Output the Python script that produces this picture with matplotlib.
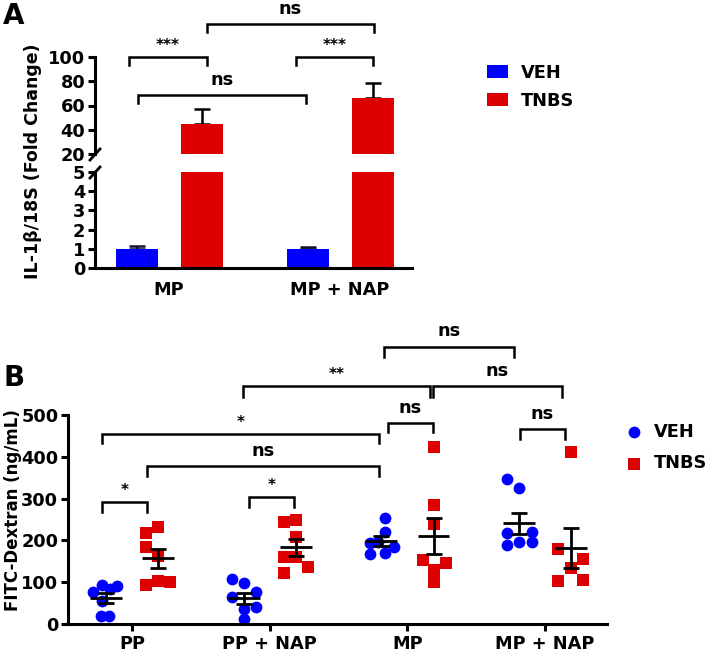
import matplotlib
matplotlib.use('Agg')
import matplotlib.pyplot as plt
import numpy as np
from matplotlib.lines import Line2D

# ---------------- data ----------------
groups_A = ["MP", "MP + NAP"]
veh_A = [1.0, 1.0]
veh_A_err = [0.15, 0.10]
tnbs_A = [45, 66]
tnbs_A_err = [12.5, 12.5]

groups_B = ["PP", "PP + NAP", "MP", "MP + NAP"]
veh_PP = [93, 84, 91, 77, 56, 19, 19]
veh_PPNAP = [107, 97, 77, 64, 41, 35, 11]
veh_MP = [253, 221, 197, 193, 185, 167, 171]
veh_MPNAP = [347, 325, 217, 195, 221, 189, 195]
tnbs_PP = [218, 233, 185, 163, 93, 104, 101]
tnbs_PPNAP = [245, 250, 209, 160, 160, 137, 121]
tnbs_MP = [424, 285, 239, 153, 147, 128, 101]
tnbs_MPNAP = [412, 179, 155, 133, 104, 105]

# horizontal scatter offsets of the points (layout only)
jit_veh = [[-0.031, 0.029, 0.082, -0.092, -0.031, -0.038, 0.024],
           [-0.087, 0.0, 0.087, -0.087, 0.087, 0.0, 0.0],
           [0.029, 0.029, -0.022, -0.08, 0.094, -0.08, 0.029],
           [-0.087, 0.0, -0.087, 0.0, 0.094, -0.087, 0.094]]
jit_tnbs = [[-0.087, 0.0, -0.087, 0.0, -0.087, 0.0, 0.087],
            [-0.087, 0.0, 0.0, -0.087, 0.0, 0.087, -0.087],
            [0.0, 0.0, 0.0, -0.08, 0.087, 0.0, 0.0],
            [0.0, -0.094, 0.087, 0.0, -0.094, 0.087]]

BLUE = '#0000FF'
RED = '#DD0000'

plt.rcParams['font.family'] = ['DejaVu Sans']
plt.rcParams['font.weight'] = 'bold'

W, H = 714, 653
fig = plt.figure(figsize=(W / 100, H / 100), dpi=100)


def fx(px):
    return px / W


def fy(py):
    return 1 - py / H


SPW = 2.2
TFS = 12.8

# ---------------- Panel A ----------------
axA_hi = fig.add_axes([fx(95), fy(154), fx(412) - fx(95), fy(57) - fy(154)])
axA_lo = fig.add_axes([fx(95), fy(268), fx(412) - fx(95), fy(172) - fy(268)])
xA = np.arange(len(groups_A))
offA, bwA = 0.19, 0.246
for ax in (axA_hi, axA_lo):
    ax.bar(xA - offA, veh_A, bwA, color=BLUE, label='VEH', zorder=2)
    ax.bar(xA + offA, tnbs_A, bwA, color=RED, label='TNBS', zorder=2)
    ax.errorbar(xA - offA, veh_A, yerr=[np.zeros(2), veh_A_err], fmt='none',
                ecolor='#111133', elinewidth=1.8, capsize=6, capthick=1.8, zorder=1)
    ax.errorbar(xA + offA, tnbs_A, yerr=[np.zeros(2), tnbs_A_err], fmt='none',
                ecolor='black', elinewidth=1.8, capsize=6, capthick=1.8, zorder=1)
    ax.set_xlim(-0.433, 1.42)
    for s in ('top', 'right'):
        ax.spines[s].set_visible(False)
    ax.spines['left'].set_linewidth(SPW)
    ax.spines['bottom'].set_linewidth(SPW)
    ax.tick_params(axis='y', length=5, width=SPW, labelsize=TFS, pad=2)

axA_hi.set_ylim(20, 100)
axA_hi.set_yticks([20, 40, 60, 80, 100])
axA_hi.spines['bottom'].set_visible(False)
axA_hi.set_xticks([])
axA_lo.set_ylim(0, 5)
axA_lo.set_yticks([0, 1, 2, 3, 4, 5])
axA_lo.set_xticks(xA)
axA_lo.set_xticklabels(groups_A, fontsize=TFS)
axA_lo.tick_params(axis='x', length=0, pad=9)

# axis break marks
for y0, y1 in ((160, 149), (178, 167)):
    fig.add_artist(Line2D([fx(90), fx(100)], [fy(y0), fy(y1)], color='black',
                          lw=2, transform=fig.transFigure))

fig.text(fx(33), fy(161), 'IL-1β/18S (Fold Change)', rotation=90,
         ha='center', va='center', fontsize=12.5)
fig.text(fx(3), fy(24), 'A', fontsize=20, fontweight='bold')

axA_hi.legend(loc='upper left', bbox_to_anchor=(fx(487), fy(64)),
              bbox_transform=fig.transFigure, frameon=False, fontsize=TFS,
              handlelength=1.2, handleheight=0.75, handletextpad=0.7,
              labelspacing=0.55, borderaxespad=0, borderpad=0)


def bracket(ax, x1, x2, y, leg, text, star, fs):
    ax.plot([x1, x1, x2, x2], [y - leg, y, y, y - leg], color='black',
            lw=1.8, clip_on=False, solid_joinstyle='miter')
    off = 5 if star else 7.5
    ax.annotate(text, xy=((x1 + x2) / 2, y), xytext=(0, off),
                textcoords='offset points', ha='center', va='baseline',
                fontsize=fs, fontweight='bold',
                annotation_clip=False)


bracketsA = [(-0.234, 0.222, 100, 6.6, '***'),
             (0.743, 1.193, 100, 6.6, '***'),
             (-0.181, 0.801, 68.7, 6.6, 'ns'),
             (0.222, 1.199, 127.2, 6.6, 'ns')]
for x1, x2, y, leg, t in bracketsA:
    st = '*' in t
    bracket(axA_hi, x1, x2, y, leg, t, st, 11 if st else 12.8)

# ---------------- Panel B ----------------
axB = fig.add_axes([fx(68), fy(624), fx(607) - fx(68), fy(415) - fy(624)])
veh_B = [veh_PP, veh_PPNAP, veh_MP, veh_MPNAP]
tnbs_B = [tnbs_PP, tnbs_PPNAP, tnbs_MP, tnbs_MPNAP]
offB = 0.19
for i in range(len(groups_B)):
    for vals, jit, sign, col, mk, lab in ((veh_B[i], jit_veh[i], -1, BLUE, 'o', 'VEH'),
                                         (tnbs_B[i], jit_tnbs[i], 1, RED, 's', 'TNBS')):
        v = np.array(vals, float)
        xc = i + sign * offB
        axB.scatter(xc + np.array(jit), v, s=68 if mk == 's' else 72, marker=mk,
                    color=col, linewidths=0, zorder=2, label=lab if i == 0 else None)
        m = v.mean()
        sem = v.std(ddof=1) / np.sqrt(len(v))
        axB.hlines(m, xc - 0.116, xc + 0.116, color='black', lw=2, zorder=3)
        axB.errorbar([xc], [m], yerr=[sem], fmt='none', ecolor='black',
                     elinewidth=2, capsize=5.5, capthick=2, zorder=3)

axB.set_xlim(-0.465, 3.45)
axB.set_ylim(0, 500)
axB.set_yticks([0, 100, 200, 300, 400, 500])
axB.set_xticks(range(len(groups_B)))
axB.set_xticklabels(groups_B, fontsize=TFS)
for s in ('top', 'right'):
    axB.spines[s].set_visible(False)
axB.spines['left'].set_linewidth(SPW)
axB.spines['bottom'].set_linewidth(SPW)
axB.tick_params(axis='y', length=5, width=SPW, labelsize=TFS, pad=2)
axB.tick_params(axis='x', length=5, width=SPW, pad=3)

fig.text(fx(13), fy(510), 'FITC-Dextran (ng/mL)', rotation=90,
         ha='center', va='center', fontsize=12)
fig.text(fx(3), fy(386), 'B', fontsize=20, fontweight='bold')

axB.legend(loc='upper left', bbox_to_anchor=(fx(625), fy(423)),
           bbox_transform=fig.transFigure, frameon=False, fontsize=TFS,
           handlelength=1.0, handletextpad=0.6, labelspacing=0.75,
           borderaxespad=0, borderpad=0, scatterpoints=1)

bracketsB = [(-0.218, 0.109, 292.6, 24, '*'),
             (0.850, 1.177, 304.5, 24, '*'),
             (0.109, 1.794, 378, 24, 'ns'),
             (-0.218, 1.794, 454.5, 22, '*'),
             (0.806, 2.164, 569, 26, '**'),
             (2.186, 3.123, 569, 26, 'ns'),
             (1.830, 2.775, 663, 24, 'ns'),
             (1.860, 2.186, 481, 22, 'ns'),
             (2.818, 3.145, 466.5, 24, 'ns')]
for x1, x2, y, leg, t in bracketsB:
    st = '*' in t
    bracket(axB, x1, x2, y, leg, t, st, 11 if st else 12.8)

fig.savefig('out.png', dpi=100)
